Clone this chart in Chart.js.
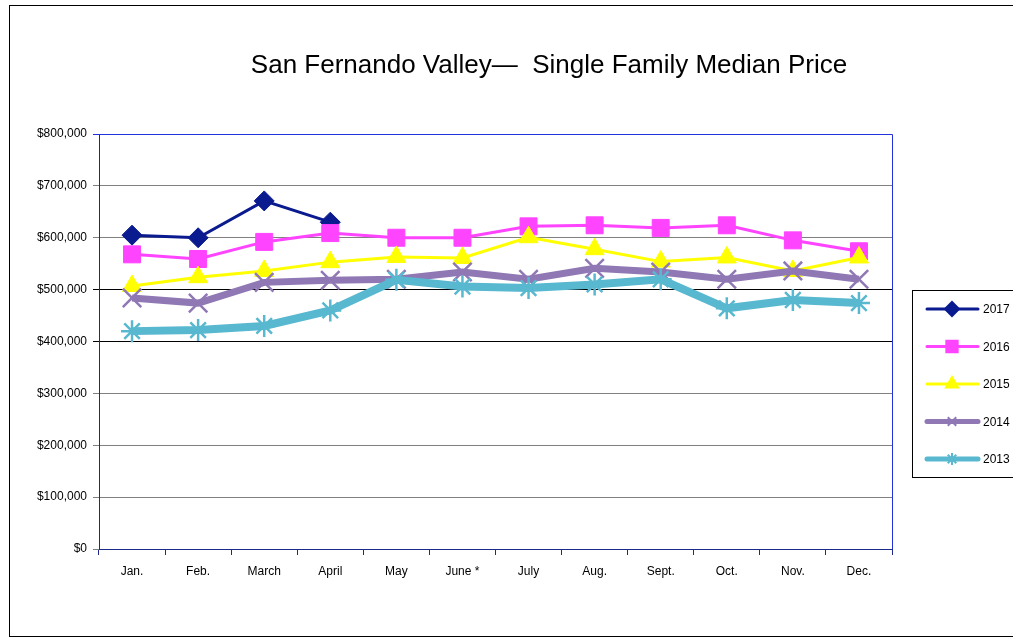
<!DOCTYPE html>
<html>
<head>
<meta charset="utf-8">
<script src="https://cdn.jsdelivr.net/npm/chart.js@4"></script>
<style>
  html, body { margin: 0; padding: 0; background: #fff; }
  #wrap { width: 1013px; height: 640px; }
</style>
</head>
<body>
<div id="wrap"><canvas id="chart" width="1013" height="640"></canvas></div>
<script>
const months = ['Jan.', 'Feb.', 'March', 'April', 'May', 'June *', 'July', 'Aug.', 'Sept.', 'Oct.', 'Nov.', 'Dec.'];
const y2017 = [605000, 600000, 671000, 630000, null, null, null, null, null, null, null, null];
const y2016 = [568000, 559000, 592000, 609000, 600000, 600000, 622000, 624000, 619000, 624000, 595000, 574000];
const y2015 = [507000, 524000, 536000, 553000, 563000, 561000, 601000, 578000, 554000, 562000, 536000, 562000];
const y2014 = [484000, 474000, 514000, 518000, 520000, 534000, 520000, 541000, 534000, 520000, 536000, 520000];
const y2013 = [420000, 422000, 430000, 460000, 519000, 506000, 503000, 510000, 520000, 464000, 480000, 474000];
const yTicks = [0, 100000, 200000, 300000, 400000, 500000, 600000, 700000, 800000];

const navy = '#1c2a8c';
const font = { family: '"Liberation Sans", Arial, sans-serif', size: 12 };

// title, outer frame, plot border and legend box
const frame = {
  id: 'frame',
  afterDraw(chart) {
    const c = chart.ctx, a = chart.chartArea;
    c.save();
    c.strokeStyle = '#000';
    c.lineWidth = 1;
    c.strokeRect(9.5, 5.5, 1100, 631);

    c.fillStyle = '#000';
    c.font = '26px "Liberation Sans", Arial, sans-serif';
    c.textAlign = 'center';
    c.textBaseline = 'middle';
    c.fillText('San Fernando Valley\u2014  Single Family Median Price', 549, 66);

    c.strokeStyle = '#2233dd';
    c.beginPath();
    c.moveTo(a.left, a.top + 0.5);
    c.lineTo(a.right + 0.5, a.top + 0.5);
    c.lineTo(a.right + 0.5, a.bottom);
    c.stroke();

    // legend
    c.strokeStyle = '#000';
    c.lineWidth = 1;
    c.strokeRect(912.5, 290.5, 200, 187);
    chart.data.datasets.forEach((ds, k) => {
      const y = 309 + k * 37.5;
      c.strokeStyle = ds.borderColor;
      c.lineWidth = ds.legendWidth;
      c.lineCap = 'round';
      c.beginPath();
      c.moveTo(927, y);
      c.lineTo(978, y);
      c.stroke();
      c.fillStyle = ds.borderColor;
      c.lineWidth = 2;
      c.lineCap = 'butt';
      Chart.helpers.drawPoint(c, {
        pointStyle: ds.pointStyle,
        radius: ds.legendRadius,
        rotation: 0,
        borderWidth: 2
      }, 952, y);
      c.fillStyle = '#000';
      c.font = '12px "Liberation Sans", Arial, sans-serif';
      c.textAlign = 'left';
      c.fillText(ds.label, 983, y + 1);
    });
    c.restore();
  }
};

function series(label, data, color, style, width, radius, legendWidth, legendRadius, order) {
  const cross = style === 'crossRot' || style === 'star';
  return {
    label, data, order,
    borderColor: color,
    backgroundColor: color,
    borderWidth: width,
    pointStyle: style,
    pointRadius: radius,
    pointHoverRadius: radius,
    pointBackgroundColor: color,
    pointBorderColor: color,
    pointBorderWidth: cross ? 2.5 : 1,
    legendWidth,
    legendRadius,
    tension: 0,
    spanGaps: false
  };
}

new Chart(document.getElementById('chart'), {
  type: 'line',
  data: {
    labels: months,
    datasets: [
      series('2017', y2017, '#0a1a8f', 'rectRot', 3, 10, 3, 7, 5),
      series('2016', y2016, '#ff44ff', 'rect', 3, 12, 3, 8, 4),
      series('2015', y2015, '#ffff00', 'triangle', 3, 11, 3, 7, 3),
      series('2014', y2014, '#8f78b4', 'crossRot', 7, 13, 5, 6, 2),
      series('2013', y2013, '#58b8cf', 'star', 8, 11, 5, 6, 1)
    ]
  },
  options: {
    responsive: false,
    animation: false,
    events: [],
    layout: { padding: { left: 0, top: 134, right: 121, bottom: 0 } },
    plugins: {
      legend: { display: false },
      title: { display: false },
      tooltip: { enabled: false }
    },
    scales: {
      x: {
        offset: true,
        grid: { offset: true, drawOnChartArea: false, tickLength: 6, color: navy },
        border: { color: navy, width: 1 },
        ticks: { color: '#000', font, padding: 9, maxRotation: 0 },
        afterFit(s) { s.height = 91; }
      },
      y: {
        min: 0, max: 800000,
        afterBuildTicks(s) { s.ticks = yTicks.map(v => ({ value: v })); },
        grid: {
          tickLength: 6,
          color(ctx) {
            const v = ctx.tick ? ctx.tick.value : 0;
            if (v === 800000) return '#2233dd';
            if (v === 500000 || v === 400000) return '#000000';
            return '#808080';
          }
        },
        border: { color: navy, width: 1 },
        ticks: {
          color: '#000', font, padding: 6,
          callback: v => '$' + v.toLocaleString('en-US')
        },
        afterFit(s) { s.width = 99; }
      }
    }
  },
  plugins: [frame]
});
</script>
</body>
</html>
